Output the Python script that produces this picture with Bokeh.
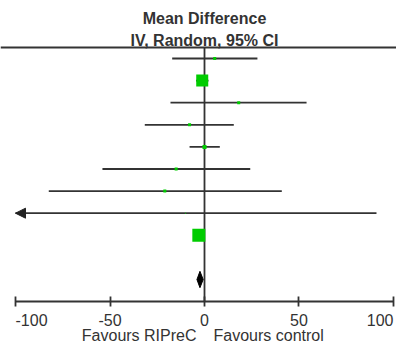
from bokeh.plotting import figure
from bokeh.models import Range1d, LinearAxis, FixedTicker, Span, Arrow, NormalHead, ColumnDataSource
from bokeh.core.properties import value
from bokeh.embed import file_html
from bokeh.resources import INLINE
import math

# ---- data ----
rows = [0, 1, 2, 3, 4, 5, 6, 7, 8]
md = [5.4, -1.2, 18.1, -7.9, 0.0, -15.0, -21.0, -10.0, -3.0]
ci_low = [-17.1, -4.5, -18.0, -31.6, -7.9, -54.0, -82.4, -111.0, -6.0]
ci_high = [28.0, 2.1, 54.0, 15.5, 8.1, 24.2, 40.9, 91.0, 0.0]
weights = [2.4, 38.0, 2.4, 2.4, 4.2, 2.4, 2.4, 0.2, 44.4]
pooled_row = 10
pooled_md = -2.4
pooled_low = -4.0
pooled_high = -0.7
tick_values = [-100, -50, 0, 50, 100]
tick_labels = ["-100", "-50", "0", "50", "100"]
title_lines = ["Mean Difference", "IV, Random, 95% CI"]
favours_left = "Favours RIPreC"
favours_right = "Favours control"

# ---- layout constants ----
AX_MIN, AX_MAX = -100, 100
X_START, X_END = -107.94, 101.59
Y_BOTTOM, Y_TOP = 12.941, -2.624
HEADER_LINE_Y = -0.5
AXIS_Y = 11.0
FONT = value("Liberation Sans")
DARK = "#333333"
GREEN = "#00cc00"
LW = 1.8

p = figure(width=396, height=344, x_range=Range1d(X_START, X_END),
           y_range=Range1d(Y_BOTTOM, Y_TOP), output_backend="svg",
           toolbar_location=None, min_border=0, x_axis_type=None,
           y_axis_type=None, title=None)
p.outline_line_color = None
p.background_fill_color = "white"
p.border_fill_color = "white"

# header rule
p.add_layout(Span(location=HEADER_LINE_Y, dimension="width", line_color=DARK, line_width=2))

# line of no effect
p.segment(x0=[0], y0=[HEADER_LINE_Y], x1=[0], y1=[AXIS_Y], line_color=DARK, line_width=LW)

# confidence intervals (clipped to axis range)
x0c = [max(v, AX_MIN) for v in ci_low]
x1c = [min(v, AX_MAX) for v in ci_high]
ci_src = ColumnDataSource(dict(y=rows, x0=x0c, x1=x1c))
p.segment(x0="x0", y0="y", x1="x1", y1="y", source=ci_src, line_color=DARK, line_width=LW)

# arrows where CI exceeds the axis
arr_rows = [r for r, lo in zip(rows, ci_low) if lo < AX_MIN]
if arr_rows:
    arr_src = ColumnDataSource(dict(y=arr_rows, xs=[AX_MIN + 5] * len(arr_rows),
                                    xe=[AX_MIN] * len(arr_rows)))
    p.add_layout(Arrow(end=NormalHead(size=10, fill_color="#222222", line_color="#222222"),
                       x_start="xs", y_start="y", x_end="xe", y_end="y",
                       source=arr_src, line_color=DARK, line_width=LW))

# study squares sized by weight
sizes = [1.95 * math.sqrt(w) for w in weights]
sq_src = ColumnDataSource(dict(x=md, y=rows, size=sizes))
p.scatter(x="x", y="y", size="size", marker="square", source=sq_src,
          fill_color=GREEN, line_color=None)

# pooled diamond
dh = 0.37
p.patch(x=[pooled_low, pooled_md, pooled_high, pooled_md],
        y=[pooled_row, pooled_row - dh, pooled_row, pooled_row + dh],
        fill_color="black", line_color="black", line_width=1)

# axis
ax = LinearAxis(ticker=FixedTicker(ticks=tick_values, minor_ticks=[]),
                bounds=(AX_MIN, AX_MAX), fixed_location=AXIS_Y,
                major_tick_in=5, major_tick_out=5, minor_tick_in=0, minor_tick_out=0,
                axis_line_color=DARK, axis_line_width=LW,
                major_tick_line_color=DARK, major_tick_line_width=LW,
                major_label_text_color=None)
p.add_layout(ax, "below")

# tick labels (edge labels aligned inward)
aligns = ["left" if i == 0 else ("right" if i == len(tick_values) - 1 else "center")
          for i in range(len(tick_values))]
tl_src = ColumnDataSource(dict(x=tick_values, y=[11.83] * len(tick_values),
                               text=tick_labels, align=aligns))
p.text(x="x", y="y", text="text", text_align="align", source=tl_src,
       text_font=FONT, text_font_size="16px", text_color=DARK, text_baseline="alphabetic")

# headers
p.text(x=[0, 0], y=[-1.787, -0.814], text=title_lines, text_align="center",
       text_baseline="alphabetic", text_font=FONT, text_font_size="16px",
       text_font_style="bold", text_color=DARK)

# favours labels
p.text(x=[0], y=[12.53], text=[favours_left], text_align="right", x_offset=-8,
       text_baseline="alphabetic", text_font=FONT, text_font_size="16px", text_color=DARK)
p.text(x=[0], y=[12.53], text=[favours_right], text_align="left", x_offset=9,
       text_baseline="alphabetic", text_font=FONT, text_font_size="16px", text_color=DARK)

open("out.html", "w").write(file_html(p, INLINE))
